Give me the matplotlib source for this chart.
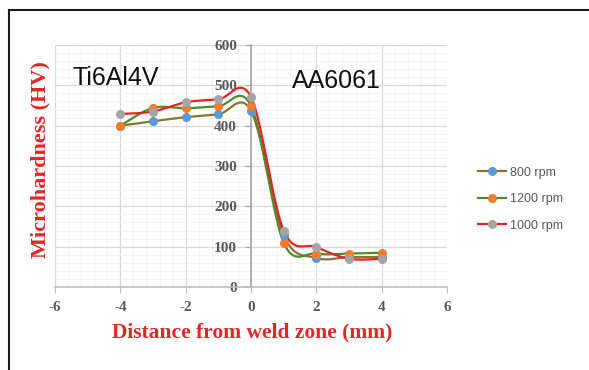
import numpy as np
import matplotlib
matplotlib.use("Agg")
import matplotlib.pyplot as plt
from matplotlib.lines import Line2D

plt.rcParams["axes.unicode_minus"] = False

# ---- data ----
distance = [-4, -3, -2, -1, 0, 1, 2, 3, 4]
hv_800 = [400, 411, 421, 428, 437, 128, 72, 74, 74]
hv_1200 = [400, 444, 443, 448, 449, 110, 83, 83, 85]
hv_1000 = [429, 435, 458, 465, 471, 140, 99, 70, 70]
series_labels = ["800 rpm", "1200 rpm", "1000 rpm"]
x_ticks = [-6, -4, -2, 0, 2, 4, 6]
y_ticks = [0, 100, 200, 300, 400, 500, 600]

line_colors = ["#8a7530", "#4e8a2e", "#e82222"]
marker_colors = ["#5b9bd5", "#ed7d31", "#a5a5a5"]


def excel_smooth(xs, ys, n=40):
    """Excel-style smoothed line (Bezier through the data points)."""
    P = np.column_stack([xs, ys]).astype(float)
    m = len(P)
    out = []
    for i in range(m - 1):
        p0 = P[i]
        p1 = P[i + 1]
        pm = P[i - 1] if i > 0 else P[i]
        pp = P[i + 2] if i + 2 < m else P[i + 1]
        c1 = p0 + (p1 - pm) / 6.0
        c2 = p1 - (pp - p0) / 6.0
        t = np.linspace(0, 1, n)[:, None]
        seg = ((1 - t) ** 3) * p0 + 3 * ((1 - t) ** 2) * t * c1 + 3 * (1 - t) * t ** 2 * c2 + t ** 3 * p1
        out.append(seg if i == 0 else seg[1:])
    arr = np.vstack(out)
    return arr[:, 0], arr[:, 1]


W, H = 589, 370
fig = plt.figure(figsize=(W / 100, H / 100), dpi=100)
ax = fig.add_axes([55 / W, 1 - 287 / H, (447 - 55) / W, (287 - 45) / H])

ax.set_xlim(-6, 6)
ax.set_ylim(0, 600)
ax.set_xticks(x_ticks)
ax.set_yticks(y_ticks)
ax.set_xticks(np.arange(-6, 6.01, 0.4), minor=True)
ax.set_yticks(np.arange(0, 601, 20), minor=True)
ax.grid(True, which="major", color="#d9d9d9", lw=0.9, zorder=0)
ax.grid(True, which="minor", color="#f3f3f3", lw=0.6, zorder=0)
ax.set_axisbelow(True)

for s in ["top", "right"]:
    ax.spines[s].set_visible(False)
ax.spines["left"].set_position(("data", 0))
ax.spines["left"].set_color("#a6a6a6")
ax.spines["left"].set_linewidth(1.2)
ax.spines["bottom"].set_color("#bfbfbf")
ax.spines["bottom"].set_linewidth(1.2)

ax.tick_params(axis="both", which="minor", length=0)
ax.tick_params(axis="x", which="major", direction="out", length=4, color="#bfbfbf", pad=6, labelcolor="#595959")
ax.tick_params(axis="y", which="major", direction="out", length=4, color="#a6a6a6", pad=6, labelcolor="#595959")
for lab in ax.get_xticklabels() + ax.get_yticklabels():
    lab.set_fontfamily("Liberation Serif")
    lab.set_fontweight("bold")
    lab.set_fontsize(11)

handles = []
for ys, lc, mc, lab in zip([hv_800, hv_1200, hv_1000], line_colors, marker_colors, series_labels):
    sx, sy = excel_smooth(distance, ys)
    ax.plot(sx, sy, color=lc, lw=1.6, zorder=3, solid_capstyle="round")
    ax.plot(distance, ys, linestyle="none", marker="o", markersize=5.5,
            markerfacecolor=mc, markeredgecolor=mc, zorder=4)
    handles.append(Line2D([], [], color=lc, lw=1.6, marker="o", markersize=5.5,
                          markerfacecolor=mc, markeredgecolor=mc, label=lab))

ax.text(-5.47, 519, "Ti6Al4V", ha="left", va="center", fontsize=18,
        family="Liberation Sans", color="#111111", zorder=5)
ax.text(1.25, 510, "AA6061", ha="left", va="center", fontsize=18,
        family="Liberation Sans", color="#111111", zorder=5)

leg = fig.legend(handles=handles, loc="upper left", bbox_to_anchor=(472 / W, 1 - 160.5 / H),
                 frameon=False, borderpad=0, handlelength=2.2, handletextpad=0.3,
                 labelspacing=1.15, numpoints=1,
                 prop=dict(family="Liberation Sans", size=9))
for t in leg.get_texts():
    t.set_color("#595959")

fig.text(252 / W, 1 - 332 / H, "Distance from weld zone (mm)", ha="center", va="center",
         fontsize=15.5, family="Liberation Serif", weight="bold", color="#e32626")
fig.text(40 / W, 1 - 160 / H, "Microhardness (HV)", ha="center", va="center", rotation=90,
         fontsize=16, family="Liberation Serif", weight="bold", color="#e32626")

# frame lines (top and left)
fig.add_artist(Line2D([8.5 / W, 1.0], [1 - 9.5 / H, 1 - 9.5 / H], color="#1a1a1a", lw=1.5,
                      transform=fig.transFigure))
fig.add_artist(Line2D([8.5 / W, 8.5 / W], [1 - 9.5 / H, 0], color="#1a1a1a", lw=1.5,
                      transform=fig.transFigure))

fig.savefig("out.png", dpi=100)
